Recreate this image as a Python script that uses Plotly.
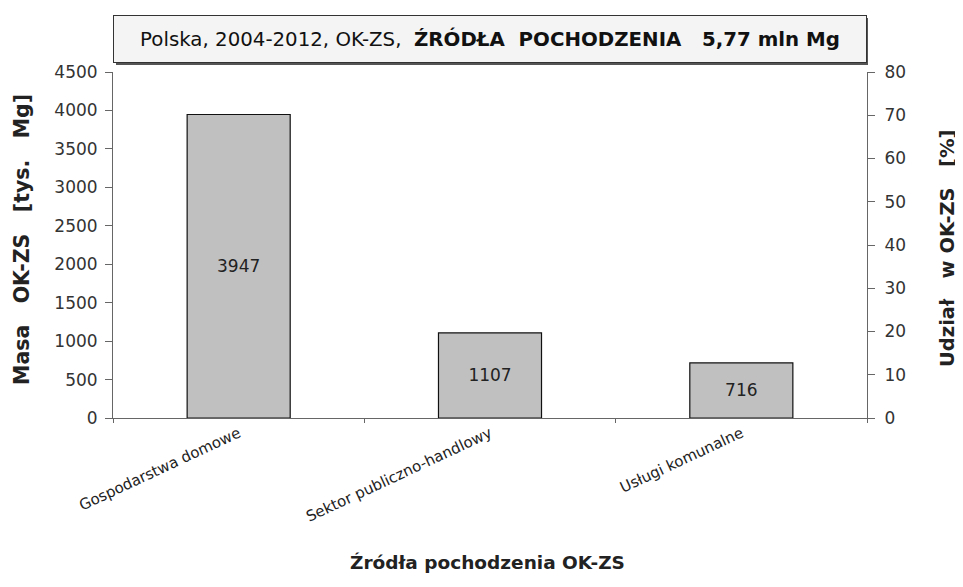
import plotly.graph_objects as go

categories = ["Gospodarstwa domowe", "Sektor publiczno-handlowy", "Usługi komunalne"]
mass_kt = [3947, 1107, 716]
left_ticks = [0, 500, 1000, 1500, 2000, 2500, 3000, 3500, 4000, 4500]
right_ticks = [0, 10, 20, 30, 40, 50, 60, 70, 80]
title_text = "Polska, 2004-2012, OK-ZS,&nbsp; <b>ŹRÓDŁA&nbsp; POCHODZENIA&nbsp;&nbsp; 5,77 mln Mg</b>"
x_title = "Źródła pochodzenia OK-ZS"
y_title = "Masa&nbsp;&nbsp; OK-ZS&nbsp;&nbsp; [tys.&nbsp;&nbsp; Mg]"
y2_title = "Udział&nbsp;&nbsp; w OK-ZS&nbsp;&nbsp; [%]"

total = sum(mass_kt)
share = [v / total * 100 for v in mass_kt]

FONT = "DejaVu Sans, Liberation Sans, Arial, sans-serif"
PW, PH = 754, 346  # plot area size in px

fig = go.Figure()
fig.add_trace(go.Bar(
    x=categories, y=mass_kt, text=[str(v) for v in mass_kt],
    textposition="inside", insidetextanchor="middle",
    textfont=dict(size=17, color="#222", family=FONT),
    marker=dict(color="#c0c0c0", line=dict(color="#111", width=1.2)),
    width=0.41, showlegend=False, hoverinfo="skip",
))
fig.add_trace(go.Scatter(
    x=categories, y=share, yaxis="y2", mode="markers",
    marker=dict(opacity=0), showlegend=False, hoverinfo="skip",
))

fig.update_layout(
    width=955, height=579,
    margin=dict(l=105, r=96, t=64, b=169),
    paper_bgcolor="white", plot_bgcolor="white",
    font=dict(family=FONT, color="#222", size=13),
    xaxis=dict(
        automargin=False,
        showline=True, linecolor="#666", linewidth=1,
        ticks="outside", tickson="boundaries", ticklen=4, tickcolor="#666",
        tickangle=-25, tickfont=dict(size=15, color="#222"),
        showgrid=False,
    ),
    yaxis=dict(
        automargin=False,
        range=[0, 4500], tickvals=left_ticks,
        showline=True, linecolor="#666", linewidth=1,
        ticks="outside", ticklen=7, tickcolor="#666", ticklabelstandoff=4,
        tickfont=dict(size=17, color="#333"),
        showgrid=False, zeroline=False,
    ),
    yaxis2=dict(
        automargin=False,
        overlaying="y", side="right", range=[0, 80], tickvals=right_ticks,
        showline=True, linecolor="#666", linewidth=1,
        ticks="outside", ticklen=7, tickcolor="#666", ticklabelstandoff=6,
        tickfont=dict(size=17, color="#333"),
        showgrid=False, zeroline=False,
    ),
)

# axis titles
fig.add_annotation(xref="paper", yref="paper", x=0.5 - 3/PW, y=-(562-418)/PH,
                   text=f"<b>{x_title}</b>", showarrow=False,
                   xanchor="center", yanchor="middle", font=dict(size=18.5, color="#222"))
fig.add_annotation(xref="paper", yref="paper", x=-(113-22)/PW, y=(418-240)/PH,
                   text=f"<b>{y_title}</b>", showarrow=False, textangle=-90,
                   xanchor="center", yanchor="middle", font=dict(size=20.5, color="#222"))
fig.add_annotation(xref="paper", yref="paper", x=1 + (947-867)/PW, y=(418-248)/PH,
                   text=f"<b>{y2_title}</b>", showarrow=False, textangle=-90,
                   xanchor="center", yanchor="middle", font=dict(size=19.5, color="#222"))

# shadow behind title box
fig.add_shape(type="rect", xref="paper", yref="paper",
              x0=3/PW, x1=1 + 1/PW, y0=1 + 7/PH, y1=1 + 54/PH,
              fillcolor="#555", line=dict(width=0), layer="below")
fig.add_annotation(
    xref="paper", yref="paper", x=0.5, y=1 + 33/PH, xanchor="center", yanchor="middle",
    text=title_text, showarrow=False,
    font=dict(size=19.8, color="#111", family=FONT),
    bgcolor="#f4f4f4", bordercolor="#333", borderwidth=1, borderpad=2,
    width=748, height=42,
)

fig.write_html("out.html")
